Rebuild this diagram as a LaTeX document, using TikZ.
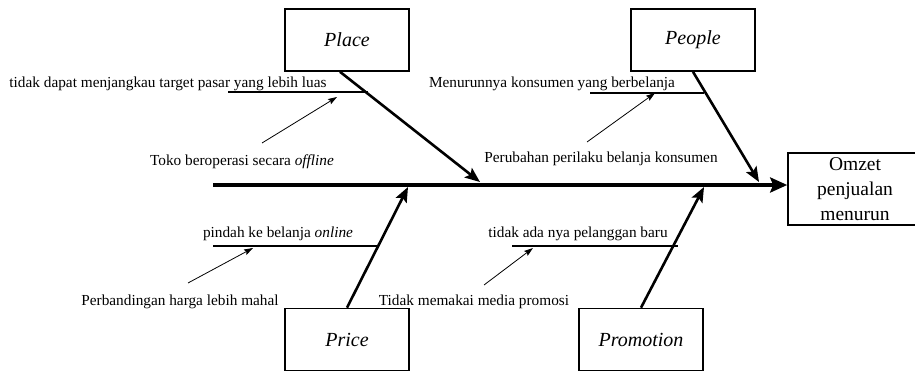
\documentclass[tikz,border=0pt]{standalone}
\usepackage{fontspec}
\setmainfont{Liberation Serif}
\usetikzlibrary{arrows.meta}

\tikzset{
  catbox/.style={draw, line width=1.6pt, minimum width=124pt, minimum height=62pt,
                 inner sep=0pt, font=\fontsize{20}{24}\selectfont\itshape},
  effectbox/.style={draw, line width=1.6pt, minimum width=134pt, minimum height=72pt,
                 inner sep=0pt, align=center, font=\fontsize{19.5}{25}\selectfont},
  cause/.style={inner sep=0pt, anchor=base, font=\fontsize{15.3}{18}\selectfont},
  spine/.style={line width=3.5pt, -{Stealth[length=17pt, width=15pt, inset=3pt]}},
  bone/.style={line width=2.6pt, -{Stealth[length=15pt, width=12pt, inset=3pt]}},
  rib/.style={line width=1.6pt},
  pointer/.style={line width=0.8pt, -{Stealth[length=9pt, width=6pt, inset=1.5pt]}}
}

\begin{document}
\begin{tikzpicture}[x=1pt, y=-1pt]
\useasboundingbox (0,0) rectangle (915,372);

% category boxes and effect box
\node[catbox] (place) at (347,40) {Place};
\node[catbox] (people) at (693,40) {People};
\node[catbox] (price) at (347,339.5) {Price};
\node[catbox] (promo) at (641,339.5) {Promotion};
\node[effectbox] (omzet) at (855,189) {Omzet\\penjualan\\menurun};

% spine
\coordinate (tail) at (213,185);
\draw[spine] (tail) -- (tail -| omzet.west);

% main bones
\coordinate (placeTip) at (480,182);
\coordinate (peopleTip) at (759,182);
\coordinate (priceTip) at (408,187);
\coordinate (promoTip) at (704,187);
\draw[bone] ([xshift=-7pt]place.south) -- (placeTip);
\draw[bone] (people.south) -- (peopleTip);
\draw[bone] (price.north) -- (priceTip);
\draw[bone] (promo.north) -- (promoTip);

% ribs
\coordinate (r1a) at (228,92);  \coordinate (r1b) at (368,92);
\coordinate (r2a) at (590,93);  \coordinate (r2b) at (704,93);
\coordinate (r3a) at (213,246); \coordinate (r3b) at (378,246);
\coordinate (r4a) at (512,246); \coordinate (r4b) at (678,246);
\draw[rib] (r1a) -- (r1b);
\draw[rib] (r2a) -- (r2b);
\draw[rib] (r3a) -- (r3b);
\draw[rib] (r4a) -- (r4b);

% cause labels
\node[cause] (t1) at (168,87) {tidak dapat menjangkau target pasar yang lebih luas};
\node[cause] (t2) at (242,165) {Toko beroperasi secara \textit{offline}};
\node[cause] (t3) at (552,87) {Menurunnya konsumen yang berbelanja};
\node[cause] (t4) at (601,162) {Perubahan perilaku belanja konsumen};
\node[cause] (t5) at (278,237) {pindah ke belanja \textit{online}};
\node[cause] (t6) at (180,305) {Perbandingan harga lebih mahal};
\node[cause] (t7) at (578,237) {tidak ada nya pelanggan baru};
\node[cause] (t8) at (474,305) {Tidak memakai media promosi};

% sub-cause pointers
\coordinate (p1s) at (262,143); \coordinate (p1e) at (337,97);
\coordinate (p2s) at (587,142); \coordinate (p2e) at (655,93);
\coordinate (p3s) at (188,283); \coordinate (p3e) at (253,248);
\coordinate (p4s) at (484,285); \coordinate (p4e) at (533,248);
\draw[pointer] (p1s) -- (p1e);
\draw[pointer] (p2s) -- (p2e);
\draw[pointer] (p3s) -- (p3e);
\draw[pointer] (p4s) -- (p4e);
\end{tikzpicture}
\end{document}
